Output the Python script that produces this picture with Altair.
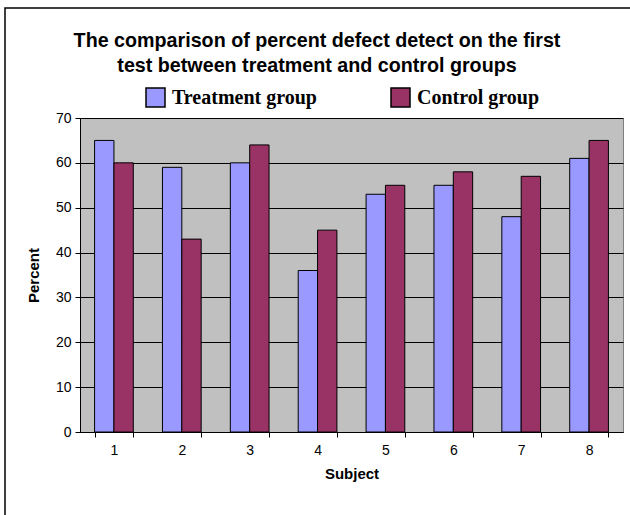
import altair as alt
import pandas as pd

subjects = ["1", "2", "3", "4", "5", "6", "7", "8"]
treatment = [65, 59, 60, 36, 53, 55, 48, 61]
control = [60, 43, 64, 45, 55, 58, 57, 65]
groups = ["Treatment group", "Control group"]
colors = ["#9999FF", "#993366"]
title_lines = ["The comparison of percent defect detect on the first",
               "test between treatment and control groups"]
y_ticks = [0, 10, 20, 30, 40, 50, 60, 70]

rows = []
for s, t, c in zip(subjects, treatment, control):
    rows.append({"Subject": s, "Group": groups[0], "Percent": t})
    rows.append({"Subject": s, "Group": groups[1], "Percent": c})
df = pd.DataFrame(rows)

SANS = "Liberation Sans"

bars = alt.Chart(df).mark_bar(stroke="black", strokeWidth=1, opacity=1).encode(
    x=alt.X("Subject:N", sort=subjects,
            scale=alt.Scale(paddingInner=0.43, paddingOuter=0.215),
            axis=alt.Axis(title="Subject", labelAngle=0, tickBand="extent", grid=False,
                          tickSize=5, labelPadding=6, titlePadding=9,
                          labelFontSize=14, titleFontSize=15)),
    xOffset=alt.XOffset("Group:N", sort=groups,
                        scale=alt.Scale(domain=groups, paddingInner=0, paddingOuter=0)),
    y=alt.Y("Percent:Q", scale=alt.Scale(domain=[0, 70], nice=False),
            axis=alt.Axis(title="Percent", values=y_ticks, grid=True, tickSize=5,
                          labelPadding=4, titlePadding=14, labelFontSize=14, titleFontSize=15)),
    fill=alt.Fill("Group:N", scale=alt.Scale(domain=groups, range=colors),
                  legend=alt.Legend(orient="none", legendX=65, legendY=-31,
                                    direction="horizontal", title=None,
                                    symbolType="square", symbolSize=361,
                                    symbolStrokeColor="black", symbolStrokeWidth=1.5,
                                    symbolOpacity=1,
                                    labelFont="Liberation Serif", labelFontWeight="bold",
                                    labelFontSize=20, labelColor="black",
                                    labelOffset=6, columnPadding=71, padding=0)),
)

border = alt.Chart(pd.DataFrame({"a": [0]})).mark_rect(
    fillOpacity=0, stroke="black", strokeWidth=1.5, clip=False
).encode(x=alt.value(-75), x2=alt.value(570), y=alt.value(-110), y2=alt.value(420))

title = alt.Chart(pd.DataFrame({"a": [0]})).mark_text(
    font=SANS, fontSize=19.7, fontWeight="bold", color="black", align="center",
    baseline="alphabetic", lineHeight=25, clip=False
).encode(x=alt.value(237), y=alt.value(-71), text=alt.value(title_lines))

chart = alt.layer(border, bars, title).properties(
    width=543, height=314,
    autosize=alt.AutoSizeParams(type="none"),
    padding={"left": 80, "top": 118, "right": 7, "bottom": 83},
    background="white",
).configure_view(
    fill="#C0C0C0", stroke="#808080", strokeWidth=1
).configure_axis(
    domainColor="black", tickColor="black", gridColor="black", gridWidth=1,
    labelFont=SANS, labelColor="black", titleFont=SANS, titleColor="black",
    titleFontWeight="bold", domainWidth=1, tickWidth=1
)

chart.save("out.html", embed_options={"renderer": "svg", "actions": False})
